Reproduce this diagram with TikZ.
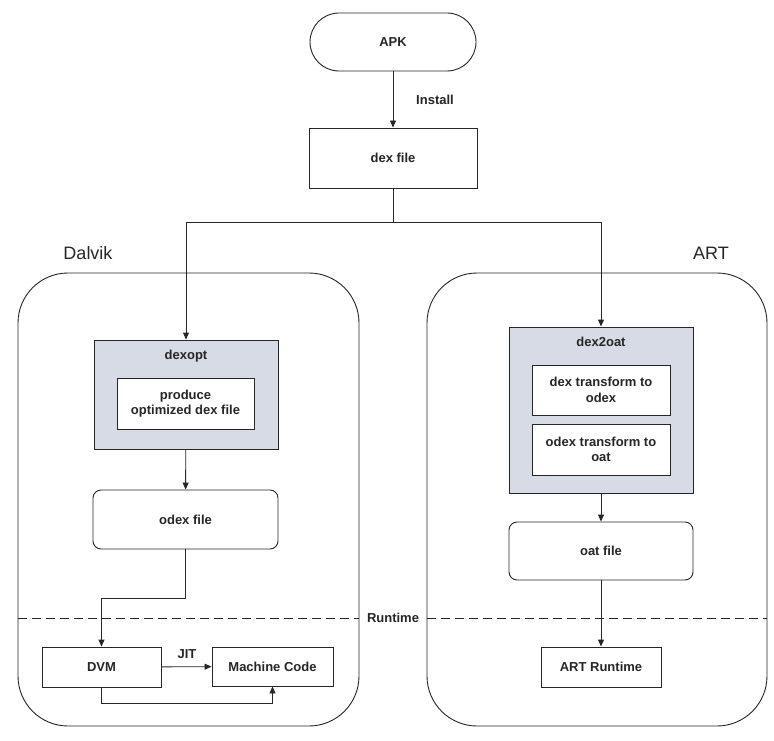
\documentclass[tikz,border=0pt]{standalone}
\usepackage{fontspec}
\setmainfont{Liberation Sans}
\usetikzlibrary{arrows.meta}
\definecolor{procfill}{HTML}{D7DBE5}
\definecolor{ink}{HTML}{262626}
\tikzset{
  base/.style={draw=ink, line width=0.9pt, inner sep=2pt, align=center, text=ink,
    font=\fontsize{13}{15.5}\selectfont\bfseries},
  plainbox/.style={base, fill=white},
  procbox/.style={base, fill=procfill},
  softbox/.style={base, fill=white, rounded corners=8pt},
  container/.style={draw=ink, line width=0.9pt, rounded corners=50pt},
  title/.style={text=ink, font=\fontsize{18}{20}\selectfont},
  lbl/.style={text=ink, font=\fontsize{13}{15}\selectfont\bfseries, inner sep=1pt},
  arr/.style={draw=ink, line width=0.9pt, -{Triangle[length=7pt,width=6pt]}},
  conn/.style={draw=ink, line width=0.9pt},
  runline/.style={draw=ink, line width=0.9pt, dash pattern=on 9pt off 5pt}
}
\begin{document}
\begin{tikzpicture}[x=1pt,y=-1pt]
\useasboundingbox (0,0) rectangle (774,741);
\fill[white] (0,0) rectangle (774,741);
% containers
\node[container, minimum width=341pt, minimum height=453pt] (dalvik) at (188.5,499.5) {};
\node[container, minimum width=340pt, minimum height=453pt] (art) at (597,499.5) {};
\node[title] (dalviklbl) at (88,253) {Dalvik};
\node[title] (artlbl) at (711,253) {ART};
% top
\node[plainbox, rounded corners=29pt, minimum width=166pt, minimum height=58pt] (apk) at (393,42) {APK};
\node[plainbox, minimum width=168pt, minimum height=60pt] (dex) at (393,158) {dex file};
\node[lbl] (install) at (435,100) {Install};
% Dalvik side
\node[procbox, minimum width=184pt, minimum height=109pt] (dexopt) at (186,394.5) {};
\node[lbl] (dexoptlbl) at (186,356) {dexopt};
\node[plainbox, minimum width=137pt, minimum height=51pt] (produce) at (185.5,403.5) {produce\\optimized dex file};
\node[softbox, minimum width=185pt, minimum height=59pt] (odex) at (185.5,519.5) {odex file};
\node[plainbox, minimum width=119pt, minimum height=40pt] (dvm) at (101.5,667) {DVM};
\node[plainbox, minimum width=121pt, minimum height=39pt] (mc) at (272.5,666.5) {Machine Code};
\node[lbl] (jit) at (187,654) {JIT};
% ART side
\node[procbox, minimum width=184pt, minimum height=166pt] (dex2oat) at (601,410) {};
\node[lbl] (dex2oatlbl) at (601,342) {dex2oat};
\node[plainbox, minimum width=138pt, minimum height=50pt] (t1) at (601,390) {dex transform to\\odex};
\node[plainbox, minimum width=138pt, minimum height=51pt] (t2) at (601,449.5) {odex transform to\\oat};
\node[softbox, minimum width=184pt, minimum height=58pt] (oat) at (601,551) {oat file};
\node[plainbox, minimum width=120pt, minimum height=40pt] (artrt) at (601,667) {ART Runtime};
% runtime line
\draw[runline] (dalvik.west |- 0,618) -- (dalvik.east |- 0,618);
\draw[runline] (art.west |- 0,618) -- (art.east |- 0,618);
\node[lbl] (runtime) at (393,618) {Runtime};
% connectors
\draw[arr] (apk) -- (dex);
\coordinate (split) at (393,222);
\draw[conn] (dex.south) -- (split);
\draw[arr] (split) -| (dexopt.north);
\draw[arr] (split) -| (dex2oat.north);
\draw[arr] (dexopt) -- (odex);
\coordinate (bend) at (185.5,598);
\draw[arr] (odex.south) -- (bend) -| (dvm.north);
\draw[arr] (dvm) -- (mc);
\coordinate (under) at (101.5,703);
\draw[arr] (dvm.south) -- (under) -| (mc.south);
\draw[arr] (dex2oat) -- (oat);
\draw[arr] (oat) -- (artrt);
\end{tikzpicture}
\end{document}
